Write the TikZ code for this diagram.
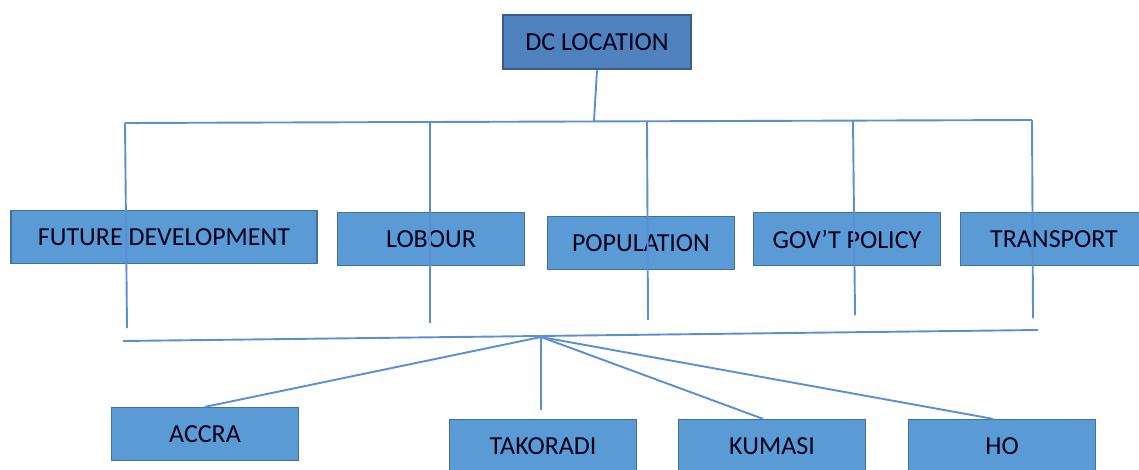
\documentclass[tikz,border=0pt]{standalone}
\usepackage{fontspec}
\setmainfont{Carlito}
\definecolor{boxfill}{HTML}{5B9BD5}
\definecolor{boxline}{HTML}{41719C}
\definecolor{topfill}{HTML}{4F81BD}
\definecolor{topline}{HTML}{385D8A}
\definecolor{wire}{HTML}{5A8FD2}
\begin{document}
\begin{tikzpicture}[x=1pt,y=-1pt,
                box/.style={draw=boxline,line width=1.3pt,fill=boxfill,minimum width=187pt,minimum height=53pt,inner sep=0pt,font=\fontsize{26}{30}\selectfont,text=black!90!blue},
                head/.style={box,draw=topline,fill=topfill,line width=2.6pt,minimum width=188pt,minimum height=54pt},
                link/.style={draw=wire,line width=1.9pt}]
                \useasboundingbox (0,0) rectangle (1139,469);
                \node[head](dc) at (597,42){DC LOCATION};
                \node[box,minimum width=306pt](future) at (164,237){FUTURE DEVELOPMENT};
                \node[box](labour) at (431,239){LOBOUR};
                \node[box](population) at (641,243){POPULATION};
                \node[box](policy) at (847,239){GOV’T POLICY};
                \node[box](transport) at (1054,239){TRANSPORT};
                \node[box](accra) at (205,434){ACCRA};
                \node[box](takoradi) at (543,446){TAKORADI};
                \node[box](kumasi) at (772,446){KUMASI};
                \node[box](ho) at (1002,446){HO};
                \coordinate(stem) at (594,121);
                \coordinate(t1) at (125,123);
                \coordinate(t2) at (430,122);
                \coordinate(t3) at (647,121);
                \coordinate(t4) at (853,120);
                \coordinate(t5) at (1032,120);
                \coordinate(b1) at (127,328);
                \coordinate(b2) at (430,323);
                \coordinate(b3) at (648,320);
                \coordinate(b4) at (855,315);
                \coordinate(b5) at (1033,318);
                \coordinate(l1) at (123,341);
                \coordinate(l2) at (1038,330);
                \coordinate(hub) at (541,337);
                \coordinate(gap) at (541,410);
                \draw[link](dc.south) -- (stem);
                \draw[link](t1) -- (t5);
                \draw[link](t1) -- (b1);
                \draw[link](t2) -- (b2);
                \draw[link](t3) -- (b3);
                \draw[link](t4) -- (b4);
                \draw[link](t5) -- (b5);
                \draw[link](l1) -- (l2);
                \draw[link](hub) -- (accra.north);
                \draw[link](hub) -- (gap);
                \draw[link](hub) -- ([xshift=-9pt]kumasi.north);
                \draw[link](hub) -- ([xshift=-9pt]ho.north);
            \end{tikzpicture}
\end{document}
